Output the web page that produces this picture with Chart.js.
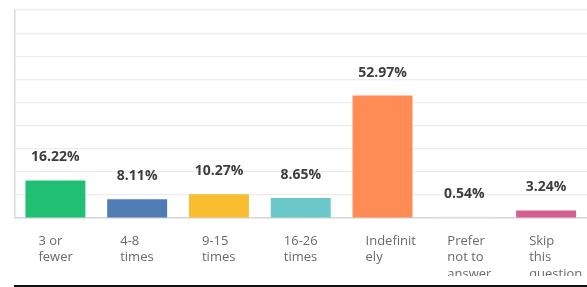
<!DOCTYPE html>
<html>
<head>
<meta charset="utf-8">
<script src="https://cdn.jsdelivr.net/npm/chart.js@4.4.0/dist/chart.umd.min.js"></script>
<style>
  html, body { margin: 0; padding: 0; background: #fff; }
  #wrap { position: relative; width: 587px; height: 287px; overflow: hidden; }
  #box { position: absolute; left: 0; top: 0; width: 587px; height: 276px; }
  #rule { position: absolute; left: 14px; top: 285px; width: 573px; height: 2px; background: #111; }
</style>
</head>
<body>
<div id="wrap">
  <div id="box"><canvas id="c"></canvas></div>
  <div id="rule"></div>
</div>
<script>
const categories = [
  ['3 or', 'fewer'],
  ['4-8', 'times'],
  ['9-15', 'times'],
  ['16-26', 'times'],
  ['Indefinit', 'ely'],
  ['Prefer', 'not to', 'answer'],
  ['Skip', 'this', 'question']
];
const values = [16.22, 8.11, 10.27, 8.65, 52.97, 0.54, 3.24];
const barColors = ['#21bf73', '#507cb6', '#f9be2f', '#6bc8c9', '#ff8b55', '#e6e6e6', '#d25f90'];

const FONT = '"Open Sans", "Noto Sans", sans-serif';

// draws the percent above each bar and the wrapped category text under it
const labelPlugin = {
  id: 'labels',
  afterDatasetsDraw(chart) {
    const ctx = chart.ctx;
    const meta = chart.getDatasetMeta(0);
    const xs = chart.scales.x;
    ctx.save();
    meta.data.forEach((bar, i) => {
      ctx.font = 'bold 14px ' + FONT;
      ctx.fillStyle = '#3e3e3e';
      ctx.textAlign = 'center';
      ctx.textBaseline = 'middle';
      ctx.fillText(values[i].toFixed(2) + '%', bar.x, bar.y - 23);

      ctx.font = '13px ' + FONT;
      ctx.fillStyle = '#6a6a6a';
      ctx.textAlign = 'left';
      const left = xs.getPixelForValue(i) - bar.width / 2 + 13;
      categories[i].forEach((line, j) => {
        ctx.fillText(line, left, xs.bottom + 23 + j * 16.5);
      });
    });
    ctx.restore();
  }
};

new Chart(document.getElementById('c'), {
  type: 'bar',
  data: {
    labels: categories.map(c => c.join(' ')),
    datasets: [{
      data: values,
      backgroundColor: barColors,
      borderWidth: 0,
      categoryPercentage: 0.733,
      barPercentage: 1
    }]
  },
  options: {
    responsive: true,
    maintainAspectRatio: false,
    animation: false,
    layout: { padding: { left: 14.5, top: 10, right: 0, bottom: 58 } },
    plugins: { legend: { display: false }, tooltip: { enabled: false } },
    scales: {
      x: {
        grid: { display: false, drawTicks: false },
        border: { display: true, color: '#d6d6d6', width: 1.5 },
        ticks: { display: false }
      },
      y: {
        min: 0,
        max: 90,
        ticks: { display: false, stepSize: 10 },
        grid: { color: '#ececec', lineWidth: 1.2, drawTicks: false },
        border: { display: true, color: '#dcdcdc', width: 1.5 }
      }
    }
  },
  plugins: [labelPlugin]
});
</script>
</body>
</html>
